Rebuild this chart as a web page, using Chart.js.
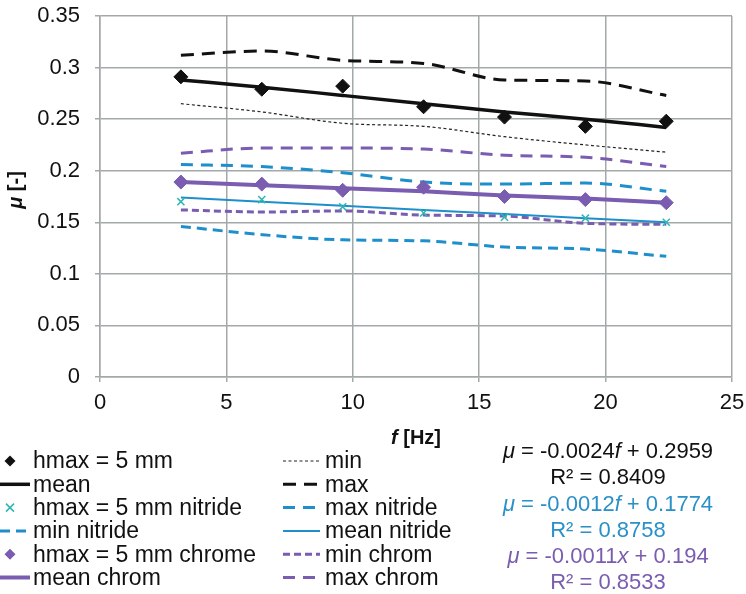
<!DOCTYPE html>
<html>
<head>
<meta charset="utf-8">
<script src="https://cdn.jsdelivr.net/npm/chart.js@4"></script>
<style>
  html, body { margin: 0; padding: 0; background: #fff; }
  #box { width: 746px; height: 594px; }
</style>
</head>
<body>
<div id="box"><canvas id="grafico"></canvas></div>
<script>
// ---- Datos ----
const freq = [3.2, 6.4, 9.6, 12.8, 16, 19.2, 22.4];

const hmaxPts   = [0.291, 0.279, 0.282, 0.262, 0.252, 0.243, 0.248];
const meanVals  = [0.288, 0.281, 0.273, 0.265, 0.257, 0.250, 0.242];
const minVals   = [0.265, 0.257, 0.246, 0.243, 0.233, 0.225, 0.218];
const maxVals   = [0.312, 0.316, 0.307, 0.304, 0.288, 0.287, 0.273];

const nitridePts  = [0.170, 0.172, 0.165, 0.159, 0.155, 0.154, 0.150];
const meanNitride = [0.174, 0.170, 0.166, 0.162, 0.158, 0.154, 0.150];
const minNitride  = [0.146, 0.138, 0.133, 0.132, 0.126, 0.124, 0.117];
const maxNitride  = [0.206, 0.204, 0.198, 0.189, 0.187, 0.188, 0.180];

const chromePts  = [0.189, 0.187, 0.181, 0.184, 0.175, 0.172, 0.169];
const meanChrom  = [0.189, 0.186, 0.183, 0.180, 0.176, 0.173, 0.169];
const minChrom   = [0.162, 0.160, 0.161, 0.157, 0.156, 0.149, 0.148];
const maxChrom   = [0.217, 0.222, 0.222, 0.221, 0.215, 0.213, 0.204];

const xTicks = [0, 5, 10, 15, 20, 25];
const yTickLabels = ["0", "0.05", "0.1", "0.15", "0.2", "0.25", "0.3", "0.35"];

const equations = [
  { eq: ["\u03bc", " = -0.0024", "f", " + 0.2959"], r2: "R\u00b2 = 0.8409", color: "#111" },
  { eq: ["\u03bc", " = -0.0012", "f", " + 0.1774"], r2: "R\u00b2 = 0.8758", color: "#2a90c8" },
  { eq: ["\u03bc", " = -0.0011", "x", " + 0.194"],  r2: "R\u00b2 = 0.8533", color: "#7a5cb0" }
];

const BLACK = "#111111";
const BLUE = "#1f8fcb";
const TEAL = "#2fb5b5";
const PURPLE = "#7a5cb0";
const FONT = "'Liberation Sans', Arial, sans-serif";

const pts = vals => vals.map((v, i) => ({ x: freq[i], y: v }));

function linea(label, vals, color, width, dash, orden) {
  return {
    label, data: pts(vals), borderColor: color, backgroundColor: color,
    borderWidth: width, borderDash: dash, cubicInterpolationMode: "monotone",
    pointRadius: 0, fill: false, order: orden
  };
}
function marcas(label, vals, color, style, radius) {
  return {
    label, data: pts(vals), showLine: false, pointStyle: style,
    pointRadius: radius, borderColor: color, backgroundColor: color,
    pointBorderWidth: style === "crossRot" ? 1.5 : 1, order: 0
  };
}

const datasets = [
  marcas("hmax = 5 mm", hmaxPts, BLACK, "rectRot", 7),
  linea("min", minVals, "#222", 1.2, [3, 2.5], 5),
  linea("mean", meanVals, BLACK, 3.5, [], 2),
  linea("max", maxVals, BLACK, 3, [13, 8], 4),
  marcas("hmax = 5 mm nitride", nitridePts, TEAL, "crossRot", 5),
  linea("max nitride", maxNitride, BLUE, 3, [12, 8], 4),
  linea("min nitride", minNitride, BLUE, 3, [10, 6], 4),
  linea("mean nitride", meanNitride, BLUE, 2, [], 2),
  marcas("hmax = 5 mm chrome", chromePts, PURPLE, "rectRot", 7),
  linea("min chrom", minChrom, PURPLE, 3, [7, 4], 4),
  linea("mean chrom", meanChrom, PURPLE, 4, [], 2),
  linea("max chrom", maxChrom, PURPLE, 3, [12, 8], 4)
];

// leyenda a dos columnas + ecuaciones + títulos de ejes
const extras = {
  id: "extras",
  afterDraw(chart) {
    const ctx = chart.ctx;
    ctx.save();
    ctx.textBaseline = "middle";

    // títulos de ejes
    const tituloMixto = (partes, cx, cy) => {
      const fonts = partes.map(p => (p.it ? "italic " : "") + "bold 20px " + FONT);
      let total = 0;
      partes.forEach((p, i) => { ctx.font = fonts[i]; total += ctx.measureText(p.t).width; });
      let x = cx - total / 2;
      ctx.textAlign = "left";
      ctx.fillStyle = "#111";
      partes.forEach((p, i) => {
        ctx.font = fonts[i];
        ctx.fillText(p.t, x, cy);
        x += ctx.measureText(p.t).width;
      });
    };
    tituloMixto([{ t: "f", it: true }, { t: " [Hz]" }], 416, 438);
    ctx.save();
    ctx.translate(16, 190);
    ctx.rotate(-Math.PI / 2);
    tituloMixto([{ t: "\u03bc", it: true }, { t: " [-]" }], 0, 0);
    ctx.restore();

    // leyenda
    ctx.font = "23px " + FONT;
    ctx.textAlign = "left";
    const y0 = 461, paso = 23.3;
    chart.data.datasets.forEach((ds, i) => {
      const col = i % 2, fila = Math.floor(i / 2);
      const y = y0 + fila * paso;
      const x1 = col === 0 ? 0 : 283, x2 = col === 0 ? 30 : 320;
      const tx = col === 0 ? 33 : 325;
      if (ds.showLine === false) {
        const cx = col === 0 ? 10 : 301;
        ctx.save();
        ctx.strokeStyle = ds.borderColor;
        ctx.fillStyle = ds.backgroundColor;
        ctx.lineWidth = ds.pointBorderWidth;
        if (ds.pointStyle === "rectRot") {
          ctx.beginPath();
          ctx.moveTo(cx, y - 5.5); ctx.lineTo(cx + 5.5, y); ctx.lineTo(cx, y + 5.5); ctx.lineTo(cx - 5.5, y);
          ctx.closePath(); ctx.fill();
        } else {
          ctx.beginPath();
          ctx.moveTo(cx - 4, y - 4); ctx.lineTo(cx + 4, y + 4);
          ctx.moveTo(cx + 4, y - 4); ctx.lineTo(cx - 4, y + 4);
          ctx.stroke();
        }
        ctx.restore();
      } else {
        ctx.save();
        ctx.strokeStyle = ds.borderColor;
        ctx.lineWidth = ds.borderWidth;
        ctx.setLineDash(ds.borderDash || []);
        ctx.beginPath();
        ctx.moveTo(x1, y); ctx.lineTo(x2, y);
        ctx.stroke();
        ctx.restore();
      }
      ctx.fillStyle = "#111";
      ctx.fillText(ds.label, tx, y + 1);
    });

    // ecuaciones de tendencia
    const cxEq = 608;
    equations.forEach((e, k) => {
      const yEq = 452 + k * 52.5;
      ctx.fillStyle = e.color;
      const f = e.eq.map((t, j) => (j === 0 || j === 2) ? "italic 22px " + FONT : "22px " + FONT);
      let w = 0;
      e.eq.forEach((t, j) => { ctx.font = f[j]; w += ctx.measureText(t).width; });
      let x = cxEq - w / 2;
      ctx.textAlign = "left";
      e.eq.forEach((t, j) => { ctx.font = f[j]; ctx.fillText(t, x, yEq); x += ctx.measureText(t).width; });
      ctx.font = "22px " + FONT;
      ctx.textAlign = "center";
      ctx.fillText(e.r2, cxEq, yEq + 26);
    });
    ctx.restore();
  }
};

const GRID = "#a3a9a9";

new Chart(document.getElementById("grafico"), {
  type: "line",
  data: { datasets },
  options: {
    responsive: true,
    maintainAspectRatio: false,
    animation: false,
    layout: { padding: { left: 0, top: 16, right: 14, bottom: 177 } },
    plugins: { legend: { display: false }, tooltip: { enabled: false } },
    scales: {
      x: {
        type: "linear", min: 0, max: 25,
        afterBuildTicks: s => { s.ticks = xTicks.map(v => ({ value: v })); },
        afterFit: s => { s.height = 40; s.paddingLeft = 0; s.paddingRight = 0; },
        grid: { color: GRID, lineWidth: 1.5, tickLength: 5 },
        border: { color: GRID, width: 1.5 },
        ticks: { color: "#111", font: { family: FONT, size: 22 }, padding: 8, maxRotation: 0 }
      },
      y: {
        min: 0, max: 0.35,
        afterBuildTicks: s => { s.ticks = yTickLabels.map((t, i) => ({ value: i * 0.05 })); },
        afterFit: s => { s.width = 100; s.paddingTop = 0; s.paddingBottom = 0; },
        grid: { color: GRID, lineWidth: 1.5, tickLength: 5 },
        border: { color: GRID, width: 1.5 },
        ticks: {
          color: "#111", font: { family: FONT, size: 22 }, padding: 15,
          callback: (v, i) => yTickLabels[i]
        }
      }
    }
  },
  plugins: [extras]
});
</script>
</body>
</html>
